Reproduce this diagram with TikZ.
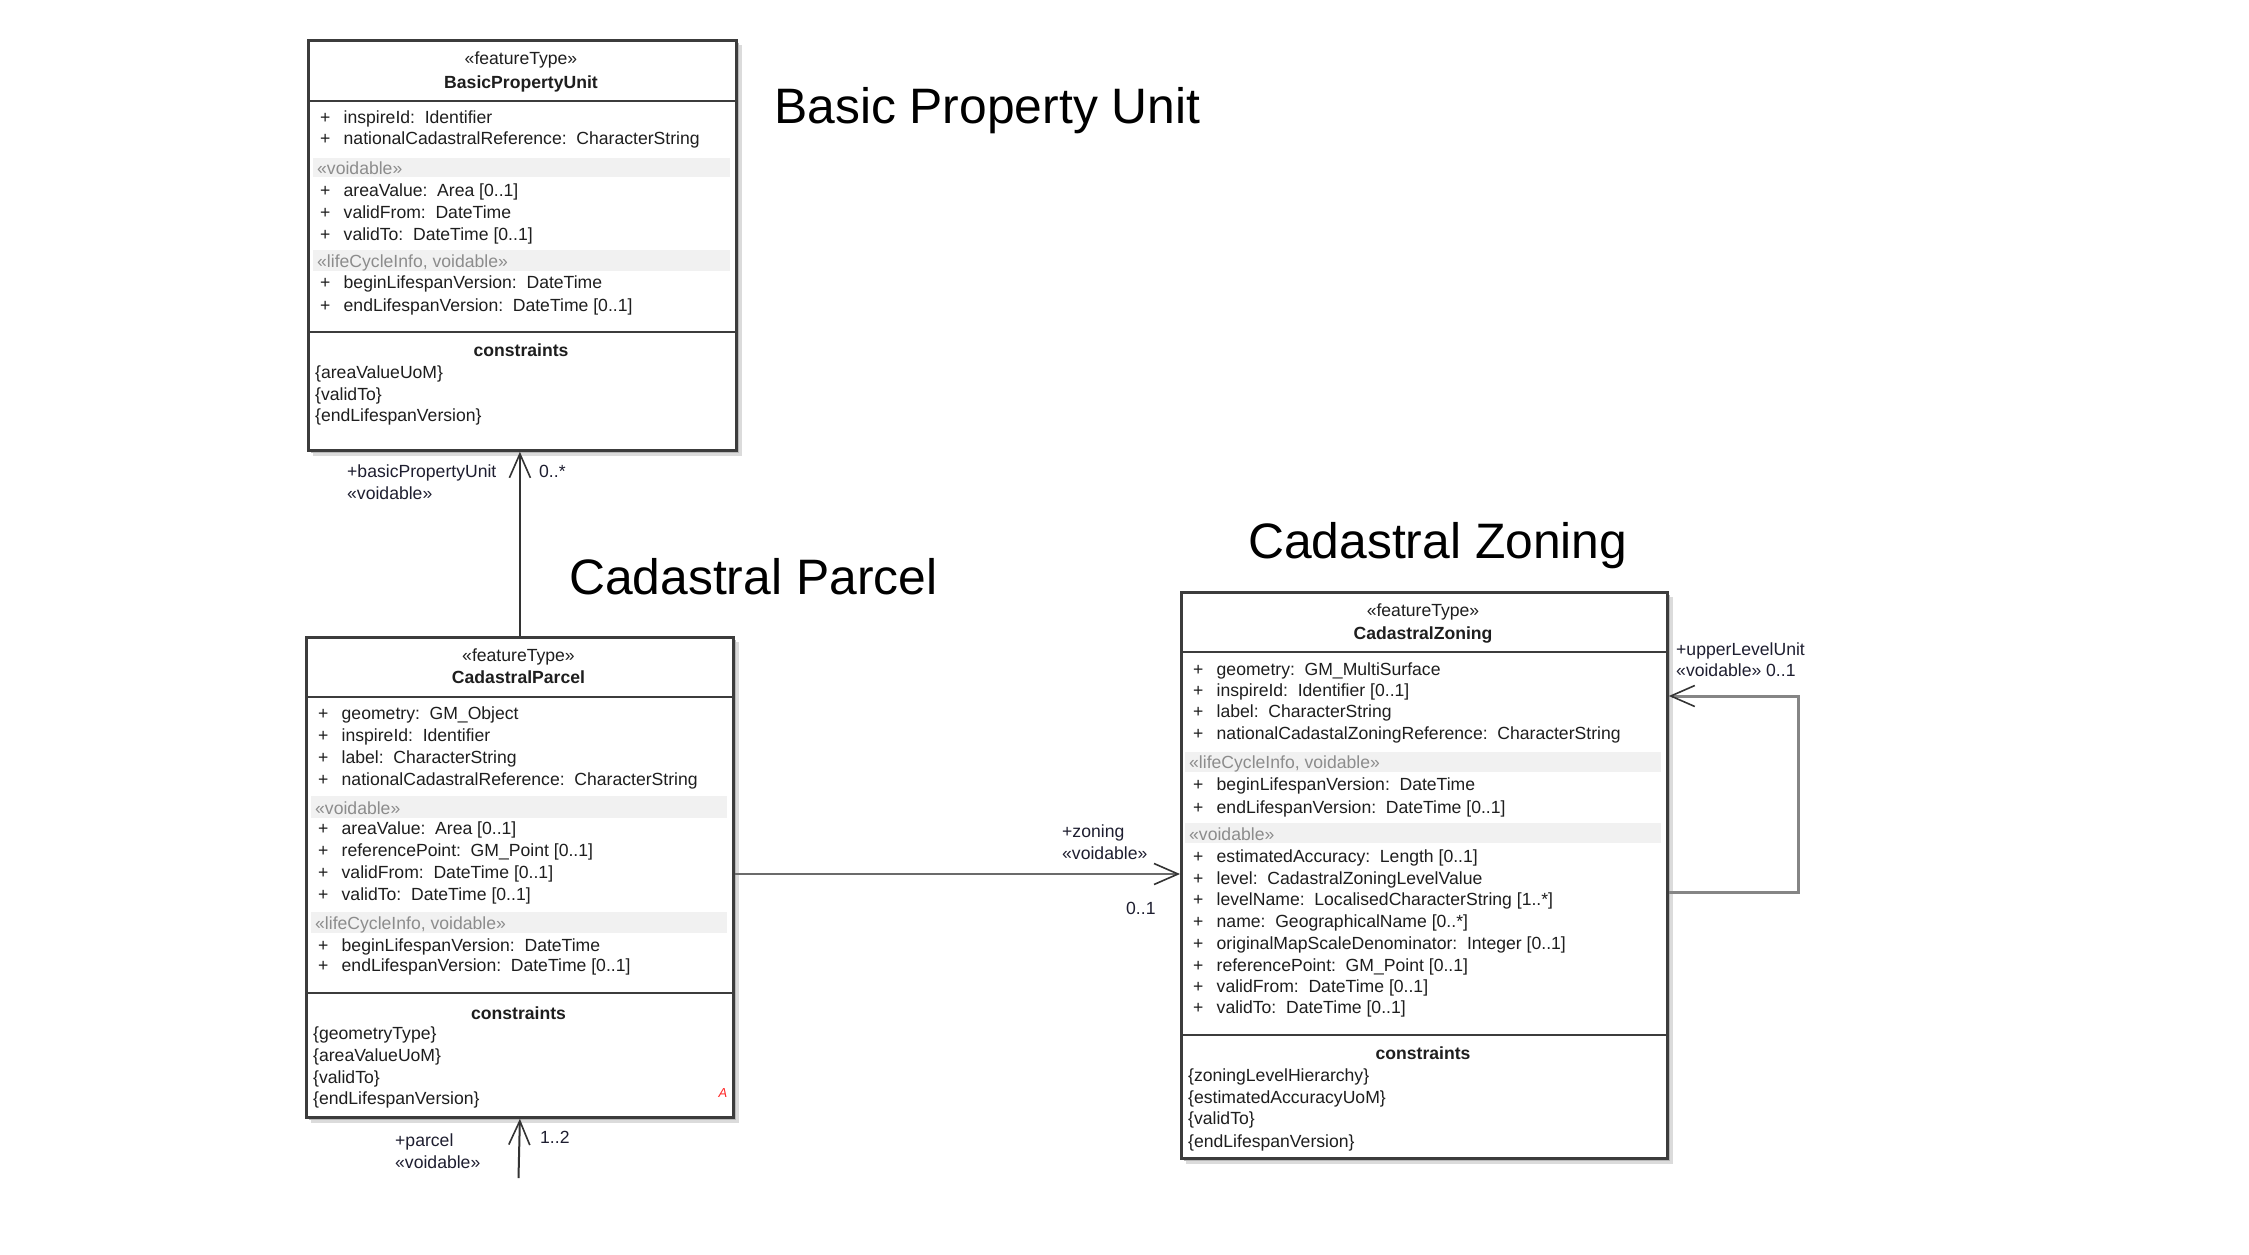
\documentclass[tikz,border=0pt]{standalone}
\usepackage{fontspec}
\setmainfont{Liberation Sans}
\usetikzlibrary{arrows.meta}
\definecolor{boxline}{HTML}{3C3C3C}
\definecolor{bandfill}{HTML}{F1F1F1}
\definecolor{bandtext}{HTML}{8C8C8C}
\definecolor{txt}{HTML}{1E1E1E}
\definecolor{lbl}{HTML}{1E1E30}
\newcommand\plusrow[1]{\makebox[23.5pt][l]{+}#1}
\newcommand\gap{\hspace{0.55em}}
\begin{document}
\begin{tikzpicture}[x=1pt,y=-1pt,
  umlbox/.style={draw=boxline, line width=2.8pt, fill=white, anchor=north west, inner sep=0pt},
  shadowA/.style={fill=black!14, draw=none},
  shadowB/.style={fill=black!28, draw=none},
  sepline/.style={draw=boxline, line width=2.8pt},
  band/.style={fill=bandfill, draw=none},
  attr/.style={anchor=base west, inner sep=0pt, font=\fontsize{17.6}{20}\selectfont, text=txt},
  bandtxt/.style={attr, text=bandtext},
  stereo/.style={anchor=base, inner sep=0pt, font=\fontsize{17.6}{20}\selectfont, text=txt},
  cname/.style={anchor=base, inner sep=0pt, font=\fontsize{17.6}{20}\selectfont\bfseries, text=txt},
  lbl/.style={anchor=base west, inner sep=0pt, font=\fontsize{17.6}{20}\selectfont, text=lbl},
  bigtitle/.style={anchor=base west, inner sep=0pt, font=\fontsize{49.8}{56}\selectfont, text=black},
  barb/.tip={Straight Barb[length=24pt,width=21pt,line width=1.6pt,color=black!80]},
  assoc/.style={draw=black!80, line width=2pt, -barb},
  zon/.style={draw=black!58, line width=2.6pt, -barb},
  selfloop/.style={draw=black!48, line width=3pt, -barb}
]
\useasboundingbox (0,0) rectangle (2249,1254);

% ---------- shadows ----------
\fill[shadowA] (313,45) rectangle (742,456);
\fill[shadowB] (311,43) rectangle (739,453);
\fill[shadowA] (311,642) rectangle (739,1123);
\fill[shadowB] (309,640) rectangle (736,1120);
\fill[shadowA] (1186,597) rectangle (1673,1164);
\fill[shadowB] (1184,595) rectangle (1670,1161);

% ---------- Basic Property Unit ----------
\node[umlbox, minimum width=428pt, minimum height=410pt] (bpu) at (307,39) {};
\node[stereo] (bpust) at (521,64) {«featureType»};
\node[cname] (bpunm) at (521,88) {BasicPropertyUnit};
\draw[sepline] (307,101) -- (735,101);
\node[attr] (bpu1) at (320,123) {\plusrow{inspireId:\gap Identifier}};
\node[attr] (bpu2) at (320,144) {\plusrow{nationalCadastralReference:\gap CharacterString}};
\fill[band] (313,158) rectangle (730,177);
\node[bandtxt] (bpub1) at (317,174) {«voidable»};
\node[attr] (bpu3) at (320,196) {\plusrow{areaValue:\gap Area [0..1]}};
\node[attr] (bpu4) at (320,218) {\plusrow{validFrom:\gap DateTime}};
\node[attr] (bpu5) at (320,240) {\plusrow{validTo:\gap DateTime [0..1]}};
\fill[band] (313,250) rectangle (730,271);
\node[bandtxt] (bpub2) at (317,267) {«lifeCycleInfo, voidable»};
\node[attr] (bpu6) at (320,288) {\plusrow{beginLifespanVersion:\gap DateTime}};
\node[attr] (bpu7) at (320,311) {\plusrow{endLifespanVersion:\gap DateTime [0..1]}};
\draw[sepline] (307,332) -- (735,332);
\node[cname] (bpuct) at (521,356) {constraints};
\node[attr] (bpuc1) at (315,378) {\{areaValueUoM\}};
\node[attr] (bpuc2) at (315,400) {\{validTo\}};
\node[attr] (bpuc3) at (315,421) {\{endLifespanVersion\}};

% ---------- Cadastral Parcel ----------
\node[umlbox, minimum width=427pt, minimum height=480pt] (cp) at (305,636) {};
\node[stereo] (cpst) at (518.5,661) {«featureType»};
\node[cname] (cpnm) at (518.5,683) {CadastralParcel};
\draw[sepline] (305,697) -- (732,697);
\node[attr] (cp1) at (318,719) {\plusrow{geometry:\gap GM\_Object}};
\node[attr] (cp2) at (318,741) {\plusrow{inspireId:\gap Identifier}};
\node[attr] (cp3) at (318,763) {\plusrow{label:\gap CharacterString}};
\node[attr] (cp4) at (318,785) {\plusrow{nationalCadastralReference:\gap CharacterString}};
\fill[band] (311,796) rectangle (727,818);
\node[bandtxt] (cpb1) at (315,814) {«voidable»};
\node[attr] (cp5) at (318,834) {\plusrow{areaValue:\gap Area [0..1]}};
\node[attr] (cp6) at (318,856) {\plusrow{referencePoint:\gap GM\_Point [0..1]}};
\node[attr] (cp7) at (318,878) {\plusrow{validFrom:\gap DateTime [0..1]}};
\node[attr] (cp8) at (318,900) {\plusrow{validTo:\gap DateTime [0..1]}};
\fill[band] (311,912) rectangle (727,933);
\node[bandtxt] (cpb2) at (315,929) {«lifeCycleInfo, voidable»};
\node[attr] (cp9) at (318,951) {\plusrow{beginLifespanVersion:\gap DateTime}};
\node[attr] (cp10) at (318,971) {\plusrow{endLifespanVersion:\gap DateTime [0..1]}};
\draw[sepline] (305,993) -- (732,993);
\node[cname] (cpct) at (518.5,1019) {constraints};
\node[attr] (cpc1) at (313,1039) {\{geometryType\}};
\node[attr] (cpc2) at (313,1061) {\{areaValueUoM\}};
\node[attr] (cpc3) at (313,1083) {\{validTo\}};
\node[attr] (cpc4) at (313,1104) {\{endLifespanVersion\}};
\node[inner sep=0pt, text=red!85, font=\fontsize{13}{14}\selectfont\itshape] (cpA) at (723,1093) {A};

% ---------- Cadastral Zoning ----------
\node[umlbox, minimum width=486pt, minimum height=566pt] (cz) at (1180,591) {};
\node[stereo] (czst) at (1423,616) {«featureType»};
\node[cname] (cznm) at (1423,639) {CadastralZoning};
\draw[sepline] (1180,652) -- (1666,652);
\node[attr] (cz1) at (1193,675) {\plusrow{geometry:\gap GM\_MultiSurface}};
\node[attr] (cz2) at (1193,696) {\plusrow{inspireId:\gap Identifier [0..1]}};
\node[attr] (cz3) at (1193,717) {\plusrow{label:\gap CharacterString}};
\node[attr] (cz4) at (1193,739) {\plusrow{nationalCadastalZoningReference:\gap CharacterString}};
\fill[band] (1185,752) rectangle (1661,772);
\node[bandtxt] (czb1) at (1189,768) {«lifeCycleInfo, voidable»};
\node[attr] (cz5) at (1193,790) {\plusrow{beginLifespanVersion:\gap DateTime}};
\node[attr] (cz6) at (1193,813) {\plusrow{endLifespanVersion:\gap DateTime [0..1]}};
\fill[band] (1185,823) rectangle (1661,843);
\node[bandtxt] (czb2) at (1189,840) {«voidable»};
\node[attr] (cz7) at (1193,862) {\plusrow{estimatedAccuracy:\gap Length [0..1]}};
\node[attr] (cz8) at (1193,884) {\plusrow{level:\gap CadastralZoningLevelValue}};
\node[attr] (cz9) at (1193,905) {\plusrow{levelName:\gap LocalisedCharacterString [1..*]}};
\node[attr] (cz10) at (1193,927) {\plusrow{name:\gap GeographicalName [0..*]}};
\node[attr] (cz11) at (1193,949) {\plusrow{originalMapScaleDenominator:\gap Integer [0..1]}};
\node[attr] (cz12) at (1193,971) {\plusrow{referencePoint:\gap GM\_Point [0..1]}};
\node[attr] (cz13) at (1193,992) {\plusrow{validFrom:\gap DateTime [0..1]}};
\node[attr] (cz14) at (1193,1013) {\plusrow{validTo:\gap DateTime [0..1]}};
\draw[sepline] (1180,1035) -- (1666,1035);
\node[cname] (czct) at (1423,1059) {constraints};
\node[attr] (czc1) at (1188,1081) {\{zoningLevelHierarchy\}};
\node[attr] (czc2) at (1188,1103) {\{estimatedAccuracyUoM\}};
\node[attr] (czc3) at (1188,1124) {\{validTo\}};
\node[attr] (czc4) at (1188,1147) {\{endLifespanVersion\}};

% ---------- big titles ----------
\node[bigtitle] (tbpu) at (774,123) {Basic Property Unit};
\node[bigtitle] (tcp) at (569,594) {Cadastral Parcel};
\node[bigtitle] (tcz) at (1248,558) {Cadastral Zoning};

% ---------- connectors ----------
\draw[assoc] (cp.north) -- (cp.north |- bpu.south);
\node[lbl] (l1) at (347,477) {+basicPropertyUnit};
\node[lbl] (l2) at (347,499) {«voidable»};
\node[lbl] (l3) at (539,477) {0..*};

\coordinate (parcelend) at (518.5,1178);
\draw[assoc] (parcelend) -- (cp.south);
\node[lbl] (l4) at (395,1146) {+parcel};
\node[lbl] (l5) at (395,1168) {«voidable»};
\node[lbl] (l6) at (540,1143) {1..2};

\coordinate (zy) at (0,874);
\draw[zon] (cp.east |- zy) -- (cz.west |- zy);
\node[lbl] (l7) at (1062,837) {+zoning};
\node[lbl] (l8) at (1062,859) {«voidable»};
\node[lbl] (l9) at (1126,914) {0..1};

\coordinate (loopA) at (0,892);
\coordinate (loopB) at (0,696);
\coordinate (loopR) at (1798,0);
\draw[selfloop] (cz.east |- loopA) -- (loopR |- loopA) -- (loopR |- loopB) -- (cz.east |- loopB);
\node[lbl] (l10) at (1676,655) {+upperLevelUnit};
\node[lbl] (l11) at (1676,676) {«voidable» 0..1};
\end{tikzpicture}
\end{document}
